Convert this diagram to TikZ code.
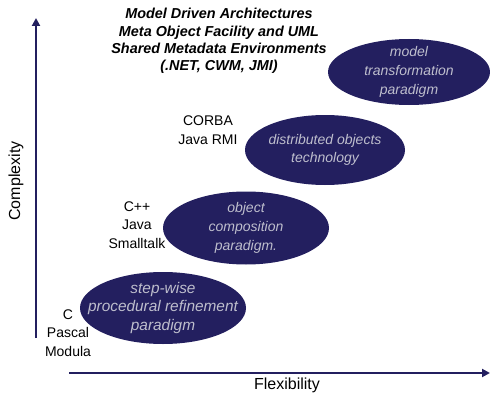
\documentclass[tikz,border=0pt]{standalone}
\usepackage{fontspec}
\setmainfont{Liberation Sans}
\usetikzlibrary{arrows.meta,shapes.geometric}
\definecolor{navy}{RGB}{35,31,95}
\definecolor{paletext}{RGB}{190,190,205}
\tikzset{
  axis/.style={draw=navy, line width=2.6pt, -{Triangle[length=8pt,width=8pt]}},
  axislabel/.style={font=\fontsize{16}{18}\selectfont},
  % the ellipse keeps its given size; the text box does not widen it
  paradigm/.style={ellipse, fill=navy, text=paletext, inner xsep=-40pt, inner ysep=-20pt,
    font=\fontsize{14}{18.7}\selectfont\itshape, align=center},
  lang/.style={text=black, font=\fontsize{14}{18.5}\selectfont, align=center},
}
\begin{document}
\begin{tikzpicture}[x=1pt,y=-1pt]
\useasboundingbox (0,0) rectangle (490,396);
% axes
\coordinate (yfoot) at (36,338);
\coordinate (ytip) at (36,18);
\coordinate (xfoot) at (69,373);
\coordinate (xtip) at (490,373);
\draw[axis] (yfoot) -- (ytip);
\draw[axis] (xfoot) -- (xtip);
\node[axislabel, rotate=90] (complexity) at (16,181) {Complexity};
\node[axislabel] (flexibility) at (287,385) {Flexibility};
% paradigm ellipses
\node[paradigm, minimum width=166pt, minimum height=72pt,
  font=\fontsize{15.4}{18.5}\selectfont\itshape] (stepwise) at (163,308)
  {step-wise\\procedural refinement\\paradigm};
\node[paradigm, minimum width=166pt, minimum height=73pt] (objcomp) at (246,228)
  {object\\composition\\paradigm.};
\node[paradigm, minimum width=160pt, minimum height=70pt] (distobj) at (325,150)
  {distributed objects\\technology};
\node[paradigm, minimum width=162pt, minimum height=66pt] (modeltrans) at (409,72)
  {model\\transformation\\paradigm};
% language labels
\node[lang] (langC) at (68,333) {C\\Pascal\\Modula};
\node[lang] (langCpp) at (137,225) {C++\\Java\\Smalltalk};
\node[lang] (langCorba) at (208,130) {CORBA\\Java RMI};
% headline
\node[font=\fontsize{14.4}{17.3}\selectfont\bfseries\itshape, align=center] (headline) at (219,41)
  {Model Driven Architectures\\Meta Object Facility and UML\\Shared Metadata Environments\\(.NET, CWM, JMI)};
\end{tikzpicture}
\end{document}
